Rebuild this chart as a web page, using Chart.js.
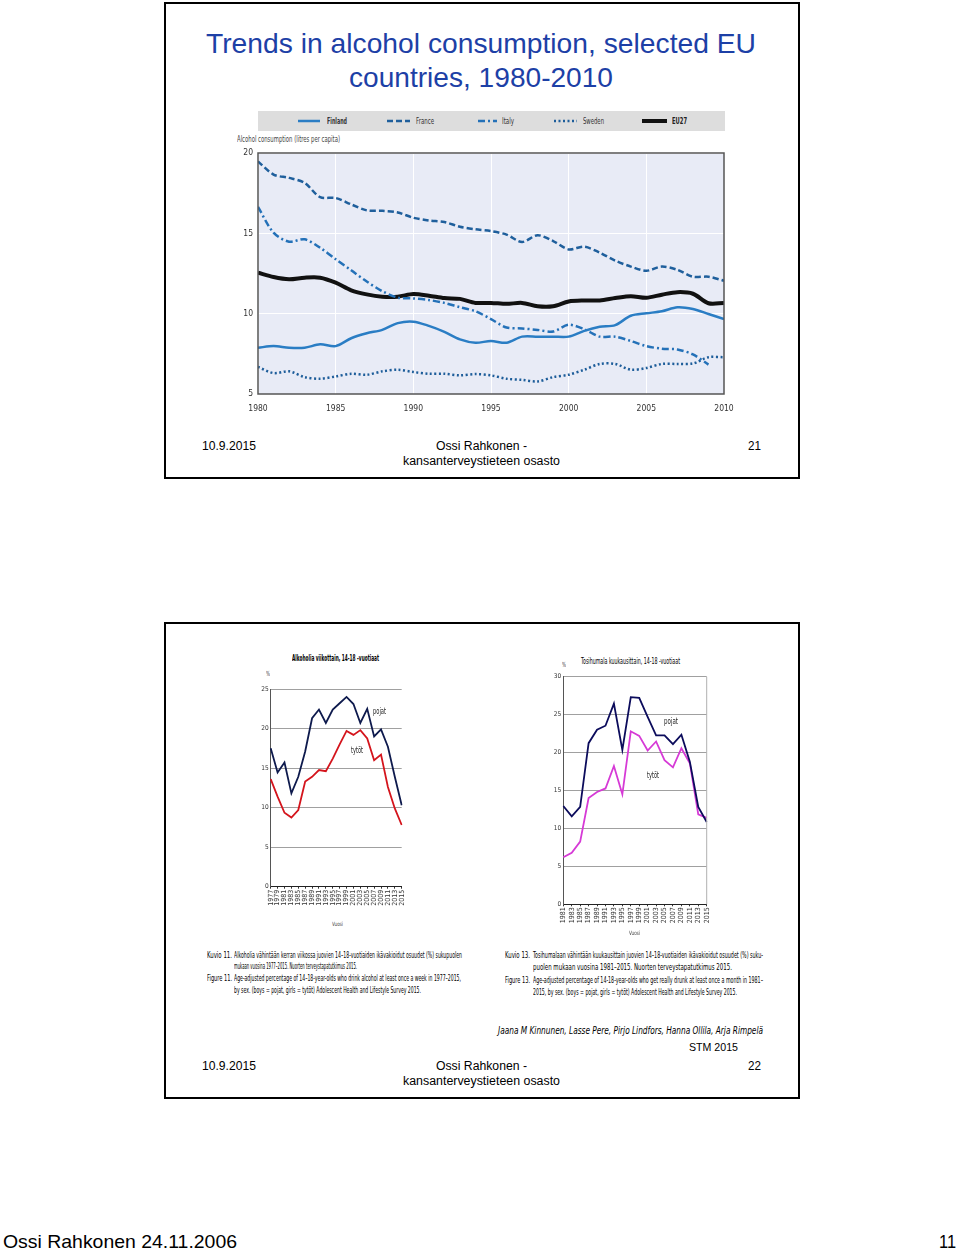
<!DOCTYPE html>
<html><head><meta charset="utf-8">
<script src="https://cdn.jsdelivr.net/npm/chart.js@4.4.1/dist/chart.umd.min.js"></script>
<style>
html,body{margin:0;padding:0;background:#fff;}
#page{position:relative;width:960px;height:1252px;overflow:hidden;background:#fff;}
.frame{position:absolute;border:2px solid #000;box-sizing:border-box;}
.t{position:absolute;white-space:nowrap;transform-origin:0 50%;font-family:"Liberation Sans",Arial,sans-serif;color:#000;}
.n{font-family:"Liberation Sans Narrow","DejaVu Sans Condensed","Liberation Sans",sans-serif;}
canvas{position:absolute;}
svg{position:absolute;overflow:visible;}
</style></head>
<body><div id="page">

<div class="frame" style="left:164px;top:2px;width:636px;height:477px;"></div>
<div class="frame" style="left:164px;top:622px;width:636px;height:477px;"></div>

<!-- slide 1 text -->
<div class="t" data-w="550" style="left:206px;top:30px;font-size:28px;line-height:28px;color:#1d40a6;">Trends in alcohol consumption, selected EU</div>
<div class="t" data-w="264" style="left:349px;top:64px;font-size:28px;line-height:28px;color:#1d40a6;">countries, 1980-2010</div>

<div style="position:absolute;left:258px;top:111px;width:467px;height:20px;background:#dddddd;"></div>
<svg style="left:0;top:0;width:960px;height:140px;">
  <line x1="298" y1="121" x2="320" y2="121" stroke="#2a7dc4" stroke-width="2.5"/>
  <line x1="387" y1="121" x2="410" y2="121" stroke="#1f5f9c" stroke-width="2.5" stroke-dasharray="6 3"/>
  <line x1="478" y1="121" x2="497" y2="121" stroke="#2471b8" stroke-width="2.5" stroke-dasharray="7 3 2 3"/>
  <line x1="554" y1="121" x2="577" y2="121" stroke="#1d5d9a" stroke-width="2.5" stroke-dasharray="2 2.5"/>
  <line x1="642" y1="121" x2="667" y2="121" stroke="#111" stroke-width="4"/>
</svg>
<div class="t n" data-w="20" style="left:327px;top:116px;font-size:9.5px;line-height:9.5px;color:#333;font-weight:bold;">Finland</div>
<div class="t n" data-w="18" style="left:416px;top:116px;font-size:9.5px;line-height:9.5px;color:#333;">France</div>
<div class="t n" data-w="12" style="left:502px;top:116px;font-size:9.5px;line-height:9.5px;color:#333;">Italy</div>
<div class="t n" data-w="21" style="left:583px;top:116px;font-size:9.5px;line-height:9.5px;color:#333;">Sweden</div>
<div class="t n" data-w="15" style="left:672px;top:116px;font-size:9.5px;line-height:9.5px;color:#222;font-weight:bold;">EU27</div>
<div class="t n" data-w="103" style="left:237px;top:135px;font-size:8.5px;line-height:8.5px;color:#444;">Alcohol consumption (litres per capita)</div>

<canvas id="c1" width="513" height="285" style="left:225px;top:140px;"></canvas>

<div class="t" data-w="54" style="left:202px;top:440px;font-size:12.5px;line-height:12.5px;">10.9.2015</div>
<div class="t" data-w="91" style="left:436px;top:440px;font-size:12.5px;line-height:12.5px;">Ossi Rahkonen -</div>
<div class="t" data-w="157" style="left:403px;top:455px;font-size:12.5px;line-height:12.5px;">kansanterveystieteen osasto</div>
<div class="t" data-w="13" style="left:748px;top:440px;font-size:12.5px;line-height:12.5px;">21</div>

<!-- slide 2 -->
<div class="t n" data-w="87" style="left:292px;top:655px;font-size:8px;line-height:8px;font-weight:bold;">Alkoholia viikottain, 14-18 -vuotiaat</div>
<div class="t n" data-w="4" style="left:266px;top:671px;font-size:7px;line-height:7px;color:#333;">%</div>
<canvas id="c2" width="170" height="240" style="left:245px;top:680px;"></canvas>
<div class="t n" data-w="13" style="left:373px;top:708px;font-size:8px;line-height:8px;color:#222;">pojat</div>
<div class="t n" data-w="12" style="left:351px;top:747px;font-size:8px;line-height:8px;color:#222;">tytöt</div>
<div class="t n" data-w="11" style="left:332px;top:921px;font-size:6px;line-height:6px;color:#444;">Vuosi</div>

<div class="t n" data-w="99" style="left:581px;top:658px;font-size:8px;line-height:8px;">Tosihumala kuukausittain, 14-18 -vuotiaat</div>
<div class="t n" data-w="4" style="left:562px;top:662px;font-size:7px;line-height:7px;color:#333;">%</div>
<canvas id="c3" width="180" height="262" style="left:540px;top:668px;"></canvas>
<div class="t n" data-w="14" style="left:664px;top:717px;font-size:8.5px;line-height:8.5px;color:#222;">pojat</div>
<div class="t n" data-w="12" style="left:647px;top:771px;font-size:8.5px;line-height:8.5px;color:#222;">tytöt</div>
<div class="t n" data-w="11" style="left:629px;top:930px;font-size:6px;line-height:6px;color:#444;">Vuosi</div>

<div class="t n" data-w="25" style="left:207px;top:950px;font-size:9.5px;line-height:9.5px;">Kuvio 11.</div>
<div class="t n" data-w="228" style="left:234px;top:950px;font-size:9.5px;line-height:9.5px;">Alkoholia vähintään kerran viikossa juovien 14–18-vuotiaiden ikävakioidut osuudet (%) sukupuolen</div>
<div class="t n" data-w="123" style="left:234px;top:961px;font-size:9.5px;line-height:9.5px;">mukaan vuosina 1977–2015. Nuorten terveystapatutkimus 2015.</div>
<div class="t n" data-w="25" style="left:207px;top:973px;font-size:9.5px;line-height:9.5px;">Figure 11.</div>
<div class="t n" data-w="227" style="left:234px;top:973px;font-size:9.5px;line-height:9.5px;">Age-adjusted percentage of 14–18-year-olds who drink alcohol at least once a week in 1977–2015,</div>
<div class="t n" data-w="187" style="left:234px;top:985px;font-size:9.5px;line-height:9.5px;">by sex. (boys = pojat, girls = tytöt) Adolescent Health and Lifestyle Survey 2015.</div>

<div class="t n" data-w="25" style="left:505px;top:950px;font-size:9.5px;line-height:9.5px;">Kuvio 13.</div>
<div class="t n" data-w="230" style="left:533px;top:950px;font-size:9.5px;line-height:9.5px;">Tosihumalaan vähintään kuukausittain juovien 14–18-vuotiaiden ikävakioidut osuudet (%) suku-</div>
<div class="t n" data-w="199" style="left:533px;top:962px;font-size:9.5px;line-height:9.5px;">puolen mukaan vuosina 1981–2015. Nuorten terveystapatutkimus 2015.</div>
<div class="t n" data-w="25" style="left:505px;top:975px;font-size:9.5px;line-height:9.5px;">Figure 13.</div>
<div class="t n" data-w="230" style="left:533px;top:975px;font-size:9.5px;line-height:9.5px;">Age-adjusted percentage of 14-18-year-olds who get really drunk at least once a month in 1981–</div>
<div class="t n" data-w="204" style="left:533px;top:987px;font-size:9.5px;line-height:9.5px;">2015, by sex. (boys = pojat, girls = tytöt) Adolescent Health and Lifestyle Survey 2015.</div>

<div class="t n" data-w="265" style="left:498px;top:1025px;font-size:11px;line-height:11px;font-style:italic;">Jaana M Kinnunen, Lasse Pere, Pirjo Lindfors, Hanna Ollila, Arja Rimpelä</div>
<div class="t" data-w="49" style="left:689px;top:1042px;font-size:11.5px;line-height:11.5px;">STM 2015</div>

<div class="t" data-w="54" style="left:202px;top:1060px;font-size:12.5px;line-height:12.5px;">10.9.2015</div>
<div class="t" data-w="91" style="left:436px;top:1060px;font-size:12.5px;line-height:12.5px;">Ossi Rahkonen -</div>
<div class="t" data-w="157" style="left:403px;top:1075px;font-size:12.5px;line-height:12.5px;">kansanterveystieteen osasto</div>
<div class="t" data-w="13" style="left:748px;top:1060px;font-size:12.5px;line-height:12.5px;">22</div>

<div class="t" data-w="234" style="left:3px;top:1235px;font-size:19px;line-height:14px;">Ossi Rahkonen 24.11.2006</div>
<div class="t" data-w="17" style="left:939px;top:1235px;font-size:19px;line-height:14px;">11</div>

</div>
<script>
// ---------- data: chart 1 (litres per capita) ----------
const years1 = [1980,1981,1982,1983,1984,1985,1986,1987,1988,1989,1990,1991,1992,1993,1994,1995,1996,1997,1998,1999,2000,2001,2002,2003,2004,2005,2006,2007,2008,2009,2010];
const finland = [7.88,7.98,7.88,7.88,8.09,7.98,8.47,8.78,8.99,9.41,9.5,9.24,8.87,8.4,8.19,8.3,8.19,8.57,8.57,8.57,8.57,8.93,9.18,9.29,9.87,10.02,10.15,10.4,10.29,9.98,9.66];
const france  = [19.48,18.66,18.45,18.14,17.25,17.2,16.8,16.43,16.4,16.3,15.97,15.8,15.7,15.41,15.25,15.14,14.92,14.46,14.88,14.52,14.0,14.17,13.8,13.3,12.93,12.67,12.93,12.73,12.3,12.3,12.05];
const italy   = [16.65,15.04,14.48,14.63,14.1,13.39,12.7,12.0,11.4,11.0,10.95,10.85,10.67,10.4,10.15,9.66,9.14,9.08,8.99,8.89,9.31,9.03,8.57,8.57,8.3,7.98,7.82,7.77,7.46,6.83,null];
const sweden  = [6.68,6.3,6.41,6.05,5.95,6.09,6.26,6.2,6.41,6.51,6.37,6.26,6.26,6.16,6.24,6.16,5.95,5.88,5.78,6.05,6.2,6.51,6.87,6.87,6.51,6.62,6.87,6.87,6.9,7.29,7.29];
const eu27    = [12.55,12.28,12.14,12.24,12.24,11.93,11.45,11.2,11.06,11.06,11.22,11.12,10.97,10.92,10.67,10.67,10.61,10.67,10.46,10.46,10.76,10.82,10.82,10.97,11.09,10.99,11.18,11.34,11.24,10.65,10.67];
const xTicks1 = [1980,1985,1990,1995,2000,2005,2010];
const yTicks1 = [5,10,15,20];

// ---------- data: chart 2 (weekly drinking, %) ----------
const cats2 = ['1977','1979','1981','1983','1985','1987','1989','1991','1993','1995','1997','1999','2001','2003','2005','2007','2009','2011','2013','2015'];
const pojat2 = [17.5,14.45,15.7,11.8,13.9,17.1,21.3,22.4,20.7,22.4,23.2,24.0,23.1,20.7,22.5,19.0,19.9,17.7,13.9,10.3];
const tytot2 = [13.6,11.4,9.35,8.75,9.7,13.3,13.9,14.75,14.6,16.2,18.0,19.7,19.2,19.8,18.75,16.0,16.7,12.6,9.9,7.8];

// ---------- data: chart 3 (monthly drunkenness, %) ----------
const cats3 = ['1981','1983','1985','1987','1989','1991','1993','1995','1997','1999','2001','2003','2005','2007','2009','2011','2013','2015'];
const pojat3 = [12.96,11.6,12.83,21.24,23.0,23.54,26.46,20.35,27.3,27.2,24.7,22.26,22.26,21.1,22.35,18.8,12.83,10.84];
const tytot3 = [6.2,6.8,8.26,14.0,14.8,15.27,18.23,14.5,22.8,22.2,20.27,21.46,19.0,18.05,20.57,18.6,11.86,11.4];

// fit HTML text widths
document.querySelectorAll('[data-w]').forEach(el => {
  const w = parseFloat(el.dataset.w);
  const nat = el.getBoundingClientRect().width;
  if (nat > 0) el.style.transform = 'scaleX(' + (w / nat) + ')';
});

Chart.defaults.animation = false;
Chart.defaults.font.family = '"Liberation Sans Narrow","DejaVu Sans Condensed","Liberation Sans",sans-serif';

const framePlugin = {
  id: 'frame',
  beforeDraw(chart, args, o) {
    const a = chart.chartArea, c = chart.ctx;
    if (o.fill) { c.save(); c.fillStyle = o.fill; c.fillRect(a.left, a.top, a.right - a.left, a.bottom - a.top); c.restore(); }
  },
  afterDraw(chart, args, o) {
    const a = chart.chartArea, c = chart.ctx;
    c.save();
    if (o.stroke) { c.strokeStyle = o.stroke; c.lineWidth = o.width || 1; c.strokeRect(a.left, a.top, a.right - a.left, a.bottom - a.top); }
    if (o.right) { c.strokeStyle = o.right; c.lineWidth = 1; c.beginPath(); c.moveTo(a.right, a.top); c.lineTo(a.right, a.bottom); c.stroke(); }
    c.restore();
  }
};

const noPad = s => { s.paddingLeft = 0; s.paddingRight = 0; s.paddingTop = 0; s.paddingBottom = 0; };

const pts = arr => years1.map((y, i) => ({x: y, y: arr[i]}));
const lineDs = (label, arr, color, width, dash) => ({
  label, data: pts(arr), borderColor: color, backgroundColor: color, borderWidth: width,
  borderDash: dash, pointRadius: 0, tension: 0.3, spanGaps: false, fill: false
});

new Chart(document.getElementById('c1'), {
  type: 'line',
  data: { datasets: [
    lineDs('Finland', finland, '#2a7dc4', 2.5, []),
    lineDs('France', france, '#1f5f9c', 2.5, [6, 3]),
    lineDs('Italy', italy, '#2471b8', 2.5, [7, 3, 2, 3]),
    lineDs('Sweden', sweden, '#1d5d9a', 2.5, [2, 2.5]),
    lineDs('EU27', eu27, '#111111', 4, [])
  ]},
  options: {
    responsive: false, devicePixelRatio: 1,
    layout: { padding: { left: 0, right: 14, top: 13, bottom: 0 } },
    plugins: { legend: { display: false }, tooltip: { enabled: false },
      frame: { fill: '#e8ebf6', stroke: '#555555', width: 1.5 } },
    scales: {
      x: { type: 'linear', min: 1980, max: 2010,
        afterBuildTicks: s => { s.ticks = xTicks1.map(v => ({value: v})); },
        afterFit: s => { s.height = 31; noPad(s); },
        grid: { color: '#ffffff', lineWidth: 1, drawTicks: false },
        border: { display: false },
        ticks: { padding: 10, color: '#333', font: { size: 8.5 }, callback: v => String(v), maxRotation: 0 } },
      y: { min: 5, max: 20,
        afterBuildTicks: s => { s.ticks = yTicks1.map(v => ({value: v})); },
        afterFit: s => { s.width = 33; noPad(s); },
        grid: { color: '#ffffff', lineWidth: 1, drawTicks: false },
        border: { display: false },
        ticks: { padding: 5, color: '#333', font: { size: 8.5 }, callback: v => String(v) } }
    }
  },
  plugins: [framePlugin]
});

function smallChart(id, cats, boys, girls, boyColor, girlColor, ymax, opts) {
  new Chart(document.getElementById(id), {
    type: 'line',
    data: { labels: cats, datasets: [
      { label: 'pojat', data: boys, borderColor: boyColor, borderWidth: 1.8, pointRadius: 0, tension: 0, fill: false },
      { label: 'tytöt', data: girls, borderColor: girlColor, borderWidth: 1.8, pointRadius: 0, tension: 0, fill: false }
    ]},
    options: {
      responsive: false, devicePixelRatio: 1,
      layout: { padding: { left: 0, right: opts.right, top: opts.top, bottom: 0 } },
      plugins: { legend: { display: false }, tooltip: { enabled: false }, frame: { right: opts.rightLine } },
      scales: {
        x: { type: 'category', offset: false,
          afterFit: s => { s.height = opts.xh; noPad(s); },
          grid: { drawOnChartArea: false, drawTicks: true, tickLength: 2, color: '#333' },
          border: { color: '#222', width: 1 },
          ticks: { autoSkip: false, minRotation: 90, maxRotation: 90, padding: 1, color: '#333', font: { size: opts.xfs } } },
        y: { min: 0, max: ymax,
          ticks: { stepSize: 5, padding: 2, color: '#333', font: { size: 6.5 } },
          afterFit: s => { s.width = opts.yw; noPad(s); },
          grid: { color: '#a0a0a0', lineWidth: 1, drawTicks: false },
          border: { color: '#555', width: 1 } }
      }
    },
    plugins: [framePlugin]
  });
}

smallChart('c2', cats2, pojat2, tytot2, '#0e1a4d', '#d4141c', 25,
  { right: 13.3, top: 9, xh: 33.3, yw: 25.7, xfs: 7, rightLine: null });
smallChart('c3', cats3, pojat3, tytot3, '#0c0c5c', '#d63ad6', 30,
  { right: 13.3, top: 8.7, xh: 25.7, yw: 23.3, xfs: 7, rightLine: '#b0b0b0' });
</script>
</body></html>
